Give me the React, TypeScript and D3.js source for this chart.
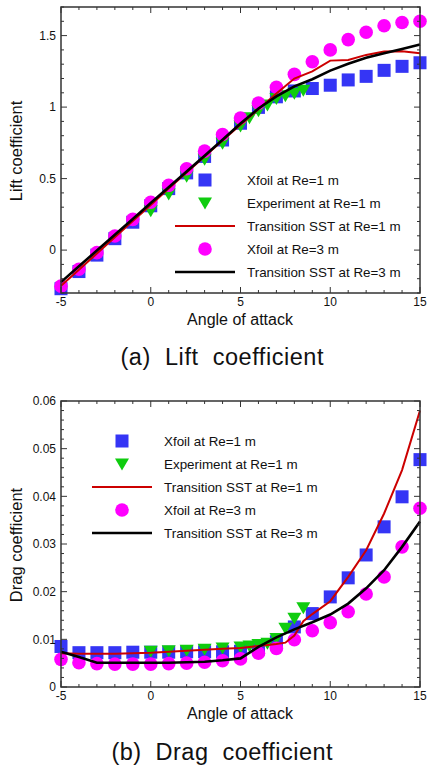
import React, { useEffect } from 'react';
import * as d3 from 'd3';

// angles of attack (deg)
const anglesInt = [-5, -4, -3, -2, -1, 0, 1, 2, 3, 4, 5, 6, 7, 8, 9, 10, 11, 12, 13, 14, 15];
const anglesExp = [0, 1, 2, 3, 4, 5, 5.5, 6, 6.5, 7, 7.5, 8, 8.5];
const anglesSstRe1Cd = [-5, -4, -3, -2, -1, 0, 1, 2, 3, 4, 5, 6, 7, 7.5, 8, 8.5, 9, 10, 11, 12, 13, 14, 15];

// lift coefficient
const xfoilRe1Cl = [-0.27, -0.15, -0.035, 0.08, 0.195, 0.31, 0.43, 0.54, 0.655, 0.77, 0.887, 0.998, 1.072, 1.113, 1.13, 1.153, 1.19, 1.215, 1.257, 1.285, 1.31];
const expCl = [0.275, 0.393, 0.516, 0.635, 0.748, 0.868, 0.925, 0.975, 1.015, 1.06, 1.08, 1.097, 1.118];
const sstRe1Cl = [-0.25, -0.137, -0.023, 0.09, 0.203, 0.316, 0.43, 0.543, 0.655, 0.767, 0.877, 0.985, 1.095, 1.2, 1.25, 1.325, 1.33, 1.365, 1.388, 1.39, 1.377];
const xfoilRe3Cl = [-0.252, -0.134, -0.018, 0.099, 0.215, 0.335, 0.453, 0.569, 0.692, 0.808, 0.924, 1.028, 1.139, 1.229, 1.317, 1.4, 1.472, 1.523, 1.569, 1.592, 1.6];
const sstRe3Cl = [-0.224, -0.113, -0.003, 0.108, 0.218, 0.329, 0.44, 0.55, 0.66, 0.772, 0.885, 0.99, 1.075, 1.145, 1.195, 1.255, 1.303, 1.345, 1.377, 1.407, 1.437];

// drag coefficient
const xfoilRe1Cd = [0.0085, 0.0072, 0.0072, 0.0072, 0.0073, 0.0073, 0.0073, 0.0074, 0.0074, 0.0074, 0.0075, 0.008, 0.0095, 0.0126, 0.0154, 0.0189, 0.0229, 0.0277, 0.0336, 0.0399, 0.0477];
const expCd = [0.0075, 0.0076, 0.0077, 0.0079, 0.0082, 0.0084, 0.0086, 0.0089, 0.0092, 0.0102, 0.0123, 0.0144, 0.0166];
const sstRe1Cd = [0.0071, 0.007, 0.007, 0.007, 0.0071, 0.0072, 0.0074, 0.0076, 0.0078, 0.008, 0.0082, 0.0086, 0.009, 0.0093, 0.0108, 0.0138, 0.0153, 0.018, 0.0231, 0.0287, 0.0364, 0.0455, 0.058];
const xfoilRe3Cd = [0.0058, 0.0051, 0.0049, 0.0048, 0.0048, 0.0048, 0.0049, 0.005, 0.0052, 0.0055, 0.0059, 0.0071, 0.0081, 0.0099, 0.0118, 0.0135, 0.0158, 0.0195, 0.0231, 0.0294, 0.0375];
const sstRe3Cd = [0.0074, 0.0063, 0.0051, 0.0051, 0.0051, 0.0051, 0.0051, 0.0052, 0.0053, 0.0056, 0.006, 0.0084, 0.0104, 0.0121, 0.0136, 0.0152, 0.0175, 0.0207, 0.0245, 0.0294, 0.0347];

const legendLabels = ['Xfoil at Re=1 m', 'Experiment at Re=1 m', 'Transition SST at Re=1 m', 'Xfoil at Re=3 m', 'Transition SST at Re=3 m'];
const xMajor = [-5, 0, 5, 10, 15];
const clMajor = [0, 0.5, 1, 1.5];
const cdMajor = [0, 0.01, 0.02, 0.03, 0.04, 0.05, 0.06];

const BLUE = '#3535f5';
const GREEN = '#0fcc0f';
const RED = '#cc0000';
const MAGENTA = '#ff00ff';
const AXIS = '#333';
const FONT = 'Liberation Sans, Arial, sans-serif';

type Pt = [number, number];
const zip = (xs: number[], ys: number[]): Pt[] => xs.map((x, i) => [x, ys[i]]);

function Square({ x, y }: { x: number; y: number }) {
  return <rect x={x - 6.5} y={y - 6.5} width={13} height={13} fill={BLUE} />;
}
function Tri({ x, y }: { x: number; y: number }) {
  return <path d={`M${x - 7},${y - 5.5}L${x + 7},${y - 5.5}L${x},${y + 6.5}Z`} fill={GREEN} />;
}
function Dot({ x, y }: { x: number; y: number }) {
  return <circle cx={x} cy={y} r={6.8} fill={MAGENTA} />;
}

interface PanelProps {
  top: number;
  bottom: number;
  yDomain: [number, number];
  yMajor: number[];
  yMinorStep: number;
  yFmt: (v: number) => string;
  squares: Pt[];
  tris: Pt[];
  red: Pt[];
  dots: Pt[];
  black: Pt[];
  yTitle: string;
  yTitleY: number;
  legendX: number;
  legendY: number;
  caption: string;
  captionY: number;
  captionLen: number;
}

function Panel(p: PanelProps) {
  const left = 61, right = 420;
  const x = d3.scaleLinear().domain([-5, 15]).range([left, right]);
  const y = d3.scaleLinear().domain(p.yDomain).range([p.bottom, p.top]);
  const line = d3.line<Pt>().x(d => x(d[0])).y(d => y(d[1]));
  const xMinor = d3.range(-5, 15.001, 1);
  const yMinor = d3.range(p.yDomain[0], p.yDomain[1] + p.yMinorStep / 2, p.yMinorStep);
  const rowGap = 23;
  return (
    <g>
      {p.squares.map((d, i) => <Square key={'s' + i} x={x(d[0])} y={y(d[1])} />)}
      {p.tris.map((d, i) => <Tri key={'t' + i} x={x(d[0])} y={y(d[1])} />)}
      {p.dots.map((d, i) => <Dot key={'c' + i} x={x(d[0])} y={y(d[1])} />)}
      <path d={line(p.red) || ''} fill="none" stroke={RED} strokeWidth={2} />
      <path d={line(p.black) || ''} fill="none" stroke="#000" strokeWidth={2.6} />

      {/* frame with inward ticks on all sides */}
      <rect x={left} y={p.top} width={right - left} height={p.bottom - p.top} fill="none" stroke={AXIS} strokeWidth={1.5} />
      {xMinor.map(v => {
        const len = xMajor.includes(v) ? 6 : 3;
        return (
          <g key={'xm' + v} stroke={AXIS} strokeWidth={1}>
            <line x1={x(v)} x2={x(v)} y1={p.bottom} y2={p.bottom - len} />
            <line x1={x(v)} x2={x(v)} y1={p.top} y2={p.top + len} />
          </g>
        );
      })}
      {yMinor.map((v, i) => {
        const major = p.yMajor.some(m => Math.abs(m - v) < p.yMinorStep / 10);
        const len = major ? 6 : 3;
        return (
          <g key={'ym' + i} stroke={AXIS} strokeWidth={1}>
            <line x1={left} x2={left + len} y1={y(v)} y2={y(v)} />
            <line x1={right} x2={right - len} y1={y(v)} y2={y(v)} />
          </g>
        );
      })}
      {xMajor.map(v => (
        <text key={'xl' + v} x={x(v)} y={p.bottom + 13} textAnchor="middle" fontSize={12} fontFamily={FONT} fill="#111">{v}</text>
      ))}
      {p.yMajor.map(v => (
        <text key={'yl' + v} x={56} y={y(v) + 4.2} textAnchor="end" fontSize={12} fontFamily={FONT} fill="#111">{p.yFmt(v)}</text>
      ))}
      <text x={240} y={p.bottom + 32} textAnchor="middle" fontSize={16} fontFamily={FONT} fill="#111">Angle of attack</text>
      <text transform={`translate(22,${p.yTitleY}) rotate(-90)`} textAnchor="middle" fontSize={16.5} fontFamily={FONT} fill="#111">{p.yTitle}</text>

      {/* legend */}
      {legendLabels.map((lab, i) => {
        const cy = p.legendY + i * rowGap;
        const mx = p.legendX;
        let marker: React.ReactNode = null;
        if (i === 0) marker = <Square x={mx} y={cy} />;
        if (i === 1) marker = <Tri x={mx} y={cy} />;
        if (i === 2) marker = <line x1={mx - 30} x2={mx + 30} y1={cy} y2={cy} stroke={RED} strokeWidth={2} />;
        if (i === 3) marker = <Dot x={mx} y={cy} />;
        if (i === 4) marker = <line x1={mx - 30} x2={mx + 30} y1={cy} y2={cy} stroke="#000" strokeWidth={2.6} />;
        return (
          <g key={'lg' + i}>
            {marker}
            <text x={mx + 42} y={cy + 4.7} fontSize={13.4} fontFamily={FONT} fill="#111">{lab}</text>
          </g>
        );
      })}

      <text x={222} y={p.captionY} textAnchor="middle" fontSize={23.5} fontFamily={FONT} fill="#111"
        style={{ whiteSpace: 'pre' }} textLength={p.captionLen} lengthAdjust="spacing">{p.caption}</text>
    </g>
  );
}

export default function App() {
  useEffect(() => {
    document.body.style.margin = '0';
  }, []);
  return (
    <svg width={427} height={766} style={{ display: 'block', position: 'absolute', left: 0, top: 0, background: '#fff' }}>
      <rect width={427} height={766} fill="#fff" />
      <Panel
        top={7}
        bottom={293}
        yDomain={[-0.3, 1.7]}
        yMajor={clMajor}
        yMinorStep={0.1}
        yFmt={v => String(v)}
        squares={zip(anglesInt, xfoilRe1Cl)}
        tris={zip(anglesExp, expCl)}
        red={zip(anglesInt, sstRe1Cl)}
        dots={zip(anglesInt, xfoilRe3Cl)}
        black={zip(anglesInt, sstRe3Cl)}
        yTitle="Lift coefficient"
        yTitleY={151}
        legendX={205}
        legendY={180}
        caption="(a)  Lift  coefficient"
        captionY={365}
        captionLen={203}
      />
      <Panel
        top={401}
        bottom={687}
        yDomain={[0, 0.06]}
        yMajor={cdMajor}
        yMinorStep={0.002}
        yFmt={v => (v === 0 ? '0' : v.toFixed(2))}
        squares={zip(anglesInt, xfoilRe1Cd)}
        tris={zip(anglesExp, expCd)}
        red={zip(anglesSstRe1Cd, sstRe1Cd)}
        dots={zip(anglesInt, xfoilRe3Cd)}
        black={zip(anglesInt, sstRe3Cd)}
        yTitle="Drag coefficient"
        yTitleY={545}
        legendX={122}
        legendY={441}
        caption="(b)  Drag  coefficient"
        captionY={760}
        captionLen={221}
      />
    </svg>
  );
}
